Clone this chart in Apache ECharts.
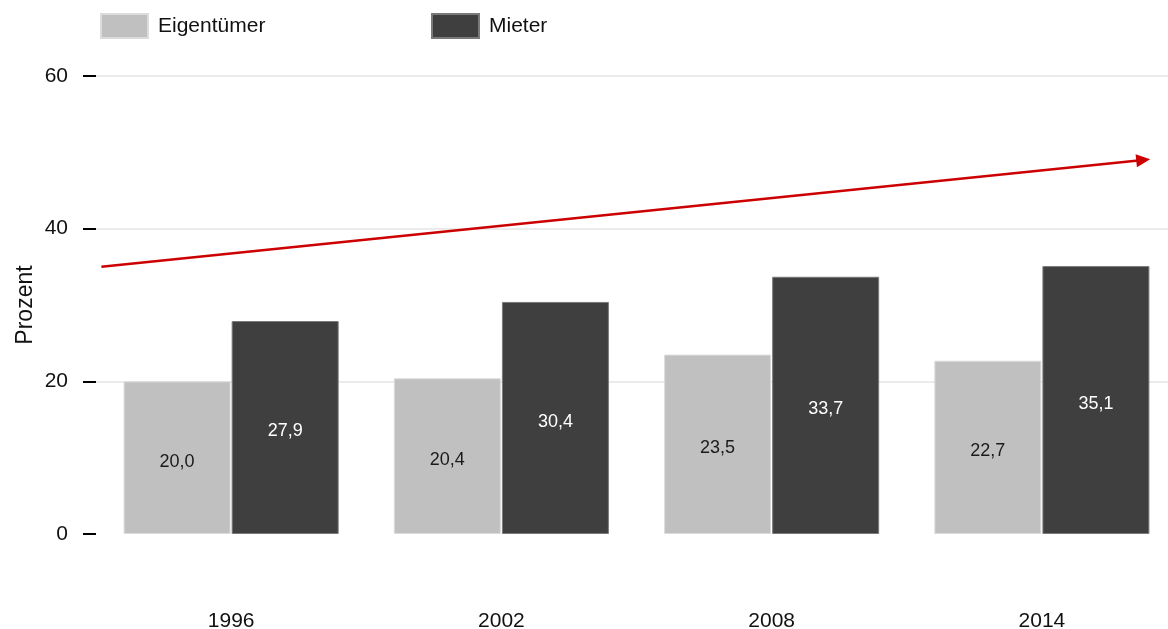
<!DOCTYPE html>
<html>
<head>
<meta charset="utf-8">
<script src="https://cdn.jsdelivr.net/npm/echarts@6/dist/echarts.min.js"></script>
<style>
  html, body { margin: 0; padding: 0; background: #ffffff; overflow: hidden; }
  #wrap { width: 1168px; height: 629px; overflow: hidden; }
  #chart { width: 1177px; height: 629px; }
</style>
</head>
<body>
<div id="wrap"><div id="chart"></div></div>
<script>
// Wohnkostenbelastung nach Wohnstatus
const years = ['1996', '2002', '2008', '2014'];
const eigentuemer = [20.0, 20.4, 23.5, 22.7];
const mieter = [27.9, 30.4, 33.7, 35.1];
const yTicks = [0, 20, 40, 60];
// trend arrow, x in category units (band centres at 0..3)
const trendX = [-0.48, 3.375];
const trendY = [35, 49];

const FONT = '"Liberation Sans", Arial, sans-serif';
const fmt = p => p.value.toFixed(1).replace('.', ',');

const chart = echarts.init(document.getElementById('chart'), null, { renderer: 'canvas' });

chart.setOption({
  animation: false,
  backgroundColor: '#ffffff',
  textStyle: { fontFamily: FONT },
  legend: [
    {
      left: 95, top: 8, itemWidth: 47, itemHeight: 24, icon: 'rect',
      data: ['Eigentümer'],
      textStyle: { fontSize: 21, color: '#111', fontFamily: FONT, padding: [0, 0, 0, 5] }
    },
    {
      left: 426, top: 8, itemWidth: 47, itemHeight: 24, icon: 'rect',
      data: ['Mieter'],
      textStyle: { fontSize: 21, color: '#111', fontFamily: FONT, padding: [0, 0, 0, 5] }
    }
  ],
  grid: { left: 96, top: 76, right: 0, bottom: 95, containLabel: false, outerBoundsMode: 'none' },
  xAxis: [
    {
      type: 'category',
      data: years,
      axisLine: { show: false },
      axisTick: { show: false },
      axisLabel: { margin: 77, fontSize: 21, color: '#111', fontFamily: FONT },
      splitLine: { show: false }
    },
    {
      type: 'value',
      min: -0.5, max: 3.5,
      show: false
    }
  ],
  yAxis: {
    type: 'value',
    min: yTicks[0], max: yTicks[yTicks.length - 1], interval: 20,
    name: 'Prozent',
    nameLocation: 'middle',
    nameGap: 59,
    nameMoveOverlap: false,
    nameTextStyle: { fontSize: 23, color: '#111', fontFamily: FONT },
    axisLine: { show: false, onZero: false },
    axisTick: { show: true, length: 13, lineStyle: { color: '#000', width: 2 } },
    axisLabel: { margin: 28, fontSize: 21, color: '#111', fontFamily: FONT },
    splitLine: { show: true, lineStyle: { color: ['rgba(0,0,0,0)', '#e4e4e4', '#e4e4e4', '#e4e4e4'], width: 1.5 } }
  },
  series: [
    {
      name: 'Eigentümer',
      type: 'bar',
      data: eigentuemer,
      barWidth: 107,
      barGap: '1%',
      itemStyle: { color: '#c0c0c0', borderColor: '#dcdcdc', borderWidth: 1 },
      label: { show: true, position: 'inside', formatter: fmt, fontSize: 18, color: '#1a1a1a', fontFamily: FONT, offset: [0, 4] }
    },
    {
      name: 'Mieter',
      type: 'bar',
      data: mieter,
      barWidth: 107,
      barGap: '1%',
      itemStyle: { color: '#3f3f3f', borderColor: '#7a7a7a', borderWidth: 1 },
      label: { show: true, position: 'inside', formatter: fmt, fontSize: 18, color: '#ffffff', fontFamily: FONT, offset: [0, 4] }
    },
    {
      name: 'Trend',
      type: 'line',
      xAxisIndex: 1,
      data: [],
      silent: true,
      markLine: {
        silent: true,
        symbol: ['none', 'triangle'],
        symbolSize: [13, 14],
        label: { show: false },
        lineStyle: { color: '#cc0000', width: 2.5, type: 'solid' },
        data: [[
          { coord: [trendX[0], trendY[0]] },
          { coord: [trendX[1], trendY[1]] }
        ]]
      }
    }
  ]
});
</script>
</body>
</html>
